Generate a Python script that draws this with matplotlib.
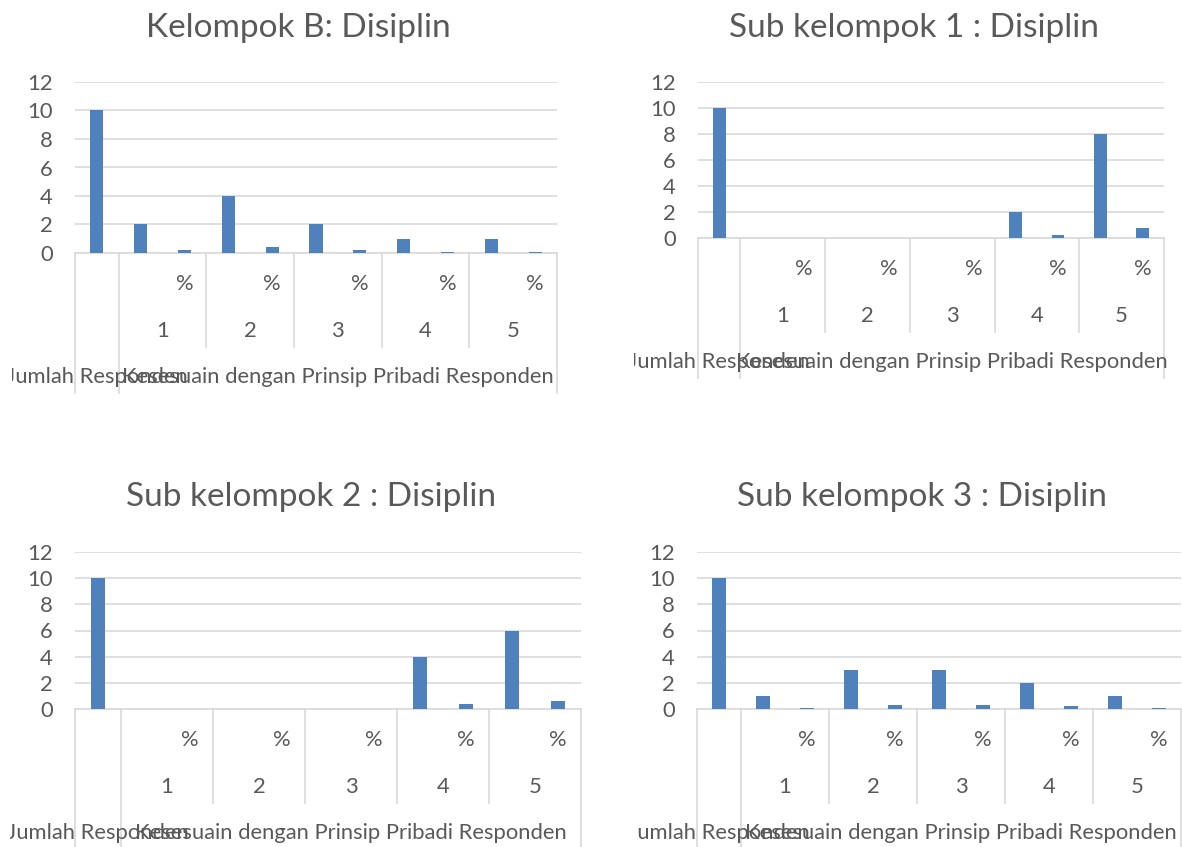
import matplotlib
matplotlib.use("Agg")
import matplotlib.pyplot as plt
from matplotlib.transforms import Bbox, blended_transform_factory

# ---- data -------------------------------------------------------------
titles = ["Kelompok B: Disiplin", "Sub kelompok 1 : Disiplin",
          "Sub kelompok 2 : Disiplin", "Sub kelompok 3 : Disiplin"]
scale_labels = ["1", "2", "3", "4", "5"]
sub_labels = ["", "%"]
top_labels = ["Jumlah Responden", "Kesesuain dengan Prinsip Pribadi Responden"]

jumlah_responden = [10, 10, 10, 10]

kelompok_b_count = [2, 4, 2, 1, 1]
kelompok_b_pct = [0.2, 0.4, 0.2, 0.1, 0.1]
sub1_count = [0, 0, 0, 2, 8]
sub1_pct = [0, 0, 0, 0.2, 0.8]
sub2_count = [0, 0, 0, 4, 6]
sub2_pct = [0, 0, 0, 0.4, 0.6]
sub3_count = [1, 3, 3, 2, 1]
sub3_pct = [0.1, 0.3, 0.3, 0.2, 0.1]

counts = [kelompok_b_count, sub1_count, sub2_count, sub3_count]
pcts = [kelompok_b_pct, sub1_pct, sub2_pct, sub3_pct]

# ---- style ------------------------------------------------------------
W, H = 1182, 847
DPI = 100
plt.rcParams["font.family"] = ["Lato", "DejaVu Sans"]
TEXT = "#595959"
GRID = "#d9d9d9"
BAR = "#4f81bd"
LABEL_SIZE = 15.8
TITLE_SIZE = 24

fig = plt.figure(figsize=(W / DPI, H / DPI), dpi=DPI)
fig.patch.set_facecolor("white")

# plot area in pixels: x0, x1, y_top(=12), y_bottom(=0), title centre x, title y, chart-area left x
layout = [
    (75, 557, 82, 253, 298, 28, 12),
    (698, 1164, 82, 238, 914, 28, 634),
    (75, 581, 552, 709, 311, 497, 10),
    (697, 1181, 552, 709, 922, 497, 636),
]
# label rows below the axis line (pixels)
ROW_SUB, ROW_SCALE, ROW_TOP = 31, 78, 124
MID_LINE, FULL_LINE = 94, 140

for i, (x0, x1, yt, yb, tx, ty, clip_x) in enumerate(layout):
    ax = fig.add_axes([x0 / W, 1 - yb / H, (x1 - x0) / W, (yb - yt) / H])
    hpx = yb - yt

    values = [jumlah_responden[i]]
    cats = [""]
    for c, p in zip(counts[i], pcts[i]):
        values += [c, p]
        cats += sub_labels
    xs = list(range(len(values)))
    ax.bar(xs, values, width=0.3, color=BAR, zorder=3)

    ax.set_xlim(-0.5, len(values) - 0.5)
    ax.set_ylim(0, 12)
    ax.set_yticks(range(0, 13, 2))
    ax.grid(axis="y", color=GRID, linewidth=1.2, zorder=0)
    ax.set_xticks([])
    ax.tick_params(axis="y", length=0, labelsize=LABEL_SIZE, labelcolor=TEXT, pad=16)
    for s in ("top", "right", "left"):
        ax.spines[s].set_visible(False)
    ax.spines["bottom"].set_color(GRID)
    ax.spines["bottom"].set_linewidth(1.2)
    ax.set_facecolor("none")

    tr = blended_transform_factory(ax.transData, ax.transAxes)
    clip = Bbox.from_extents(clip_x, 0, W, H)

    def below(px):
        return -px / hpx

    # category boundary lines
    n = len(values)
    for xb in [-0.5, 0.5, n - 0.5]:
        ax.plot([xb, xb], [0, below(FULL_LINE)], transform=tr, color=GRID,
                lw=1.2, clip_on=False)
    for g in range(1, len(scale_labels)):
        xb = 0.5 + 2 * g
        ax.plot([xb, xb], [0, below(MID_LINE)], transform=tr, color=GRID,
                lw=1.2, clip_on=False)

    # innermost labels
    for x, lab in zip(xs, cats):
        if lab:
            ax.text(x, below(ROW_SUB), lab, transform=tr, ha="center",
                    va="center", fontsize=LABEL_SIZE, color=TEXT, clip_on=False)
    # scale labels
    for g, lab in enumerate(scale_labels):
        ax.text(1.5 + 2 * g, below(ROW_SCALE), lab, transform=tr, ha="center",
                va="center", fontsize=LABEL_SIZE, color=TEXT, clip_on=False)
    # top-level labels, cut off at the edge of the chart area
    t0 = ax.text(0, below(ROW_TOP), top_labels[0], transform=tr, ha="center",
                 va="center", fontsize=LABEL_SIZE, color=TEXT)
    t1 = ax.text((1 + n - 1) / 2, below(ROW_TOP), top_labels[1], transform=tr,
                 ha="center", va="center", fontsize=LABEL_SIZE, color=TEXT)
    for t in (t0, t1):
        t.set_clip_on(True)
        t.set_clip_box(clip)

    fig.text(tx / W, 1 - ty / H, titles[i], ha="center", va="center",
             fontsize=TITLE_SIZE, color=TEXT)

fig.savefig("out.png", dpi=DPI, facecolor="white")
